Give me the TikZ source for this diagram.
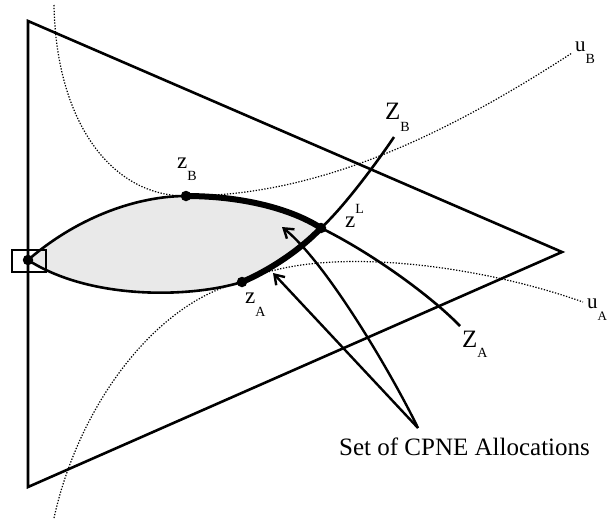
\documentclass[tikz,border=0pt]{standalone}
\usepackage{fontspec}
\setmainfont{Liberation Serif}
\usetikzlibrary{arrows.meta}
\begin{document}
\begin{tikzpicture}[x=1pt,y=-1pt,
  edge/.style={line width=2.6pt},
  thickedge/.style={line width=6pt},
  indiff/.style={line width=1.2pt, dash pattern=on 1.3pt off 1.6pt},
  dotpt/.style={circle,fill=black,inner sep=0pt,minimum size=10.5pt},
  lab/.style={inner sep=0pt,anchor=base west},
  arr/.style={line width=2.4pt,-{Straight Barb[length=9pt,width=12pt]}}
]
\useasboundingbox (0,0) rectangle (608,523);
% named points
\coordinate (TL) at (28,21);
\coordinate (BL) at (28,487);
\coordinate (R) at (562,252);
\coordinate (L) at (28,260);
\coordinate (ZB) at (186,196);
\coordinate (ZA) at (242,282);
\coordinate (ZL) at (321,228);
\coordinate (ZBend) at (394,137);
\coordinate (ZAend) at (460,326);
\coordinate (uBstart) at (54,5);
\coordinate (uBend) at (572,53);
\coordinate (uAstart) at (54,518);
\coordinate (uAend) at (583,302);
\coordinate (apex) at (418,428);
\coordinate (tipA) at (273,273);
\coordinate (tipB) at (282,227);
% lens fill
\fill[gray!17] (L) .. controls (80,215) and (140,196) .. (ZB)
  .. controls (240,196) and (290,208) .. (ZL)
  .. controls (300,250) and (270,270) .. (ZA)
  .. controls (190,298) and (90,300) .. (L) -- cycle;
% indifference curves
\draw[indiff] (uBstart) .. controls (56,120) and (110,196) .. (ZB)
  .. controls (316,196) and (442,137.5) .. (uBend);
\draw[indiff] (uAstart) .. controls (80,400) and (160,300) .. (ZA)
  .. controls (315,245) and (470,262) .. (uAend);
% triangle
\draw[edge,line join=miter] (TL) -- (R) -- (BL) -- cycle;
% lens boundary
\draw[edge] (L) .. controls (80,215) and (140,196) .. (ZB);
\draw[edge] (L) .. controls (90,300) and (190,298) .. (ZA);
\draw[thickedge] (ZB) .. controls (240,196) and (290,208) .. (ZL);
\draw[thickedge] (ZA) .. controls (270,270) and (300,250) .. (ZL);
% contract curves
\draw[edge] (ZL) .. controls (345,206) and (380,158) .. (ZBend);
\draw[edge] (ZL) .. controls (370,252) and (430,295) .. (ZAend);
% points
\node[dotpt] (pB) at (ZB) {};
\node[dotpt] (pA) at (ZA) {};
\node[dotpt] (pL) at (ZL) {};
\node[dotpt] (pO) at (L) {};
\node[draw,line width=2.6pt,minimum width=34pt,minimum height=22pt,inner sep=0pt] (box) at (29,261) {};
% arrows
\draw[arr] (apex) -- (tipA);
\draw[arr] (apex) .. controls (395,380) and (328,264) .. (tipB);
% labels
\node[lab] (lzB) at (177,168) {\fontsize{23}{23}\selectfont z\raisebox{-12pt}{\fontsize{14}{14}\selectfont B}};
\node[lab] (lzA) at (245,303) {\fontsize{23}{23}\selectfont z\raisebox{-13pt}{\fontsize{14}{14}\selectfont A}};
\node[lab] (lzL) at (345,227) {\fontsize{23}{23}\selectfont z\raisebox{14pt}{\fontsize{14}{14}\selectfont L}};
\node[lab] (lZB) at (385,119) {\fontsize{25}{25}\selectfont Z\raisebox{-12pt}{\fontsize{14}{14}\selectfont B}};
\node[lab] (lZA) at (462,347) {\fontsize{25}{25}\selectfont Z\raisebox{-10pt}{\fontsize{14}{14}\selectfont A}};
\node[lab] (luB) at (575,51) {\fontsize{21}{21}\selectfont u\raisebox{-12pt}{\fontsize{14}{14}\selectfont B}};
\node[lab] (luA) at (587,308) {\fontsize{21}{21}\selectfont u\raisebox{-12pt}{\fontsize{13}{13}\selectfont A}};
\node[lab] (set) at (339,455) {\fontsize{25}{25}\selectfont Set of CPNE Allocations};
\end{tikzpicture}
\end{document}
